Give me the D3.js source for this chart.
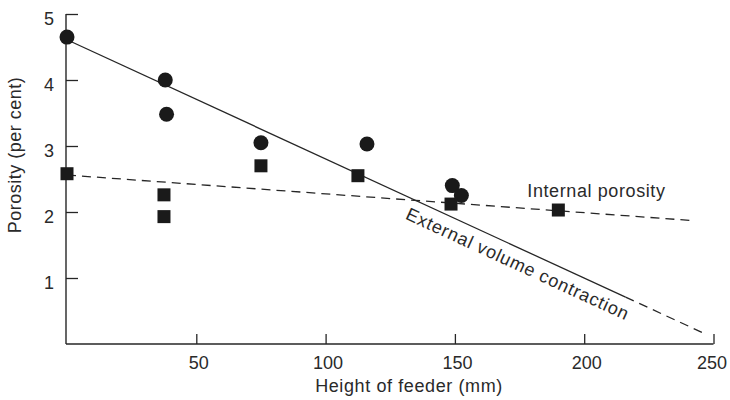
<!DOCTYPE html>
<html><head><meta charset="utf-8">
<script src="https://cdn.jsdelivr.net/npm/d3@7"></script>
<style>body{margin:0;background:#fff}svg{display:block}text{font-family:"Liberation Sans",Arial,Helvetica,sans-serif;fill:#2a2a2a}</style>
</head><body><svg id="c" width="730" height="400"></svg>
<script>
// Data
const xTicks = [50, 100, 150, 200, 250];
const yTicks = [1, 2, 3, 4, 5];
const externalX = [0, 38, 38.5, 75, 116, 149, 152.5];
const externalY = [4.65, 4.0, 3.48, 3.05, 3.03, 2.4, 2.25];
const internalX = [0, 37.5, 37.5, 75, 112.5, 148.5, 190];
const internalY = [2.58, 2.26, 1.93, 2.7, 2.55, 2.12, 2.03];
const externalFitSolid = [[0, 4.61], [216, 0.71]];
const externalFitDashed = [[216, 0.71], [247, 0.15]];
const internalFit = [[0, 2.56], [242, 1.87]];
const xLabel = "Height of feeder (mm)";
const yLabel = "Porosity (per cent)";
const internalLabel = "Internal porosity";
const externalLabel = "External volume contraction";

const svg = d3.select("#c");
const x = d3.scaleLinear().domain([0, 250]).range([67, 713.5]);
const y = d3.scaleLinear().domain([0, 5]).range([344, 14]);
const ink = "#262626";

// axes
const gx = svg.append("g").attr("transform", `translate(0,${y(0)})`)
  .call(d3.axisBottom(x).tickValues(xTicks).tickFormat(d3.format("d")).tickSize(-10).tickPadding(12));
const gy = svg.append("g").attr("transform", `translate(${x(0) - 1},0)`)
  .call(d3.axisLeft(y).tickValues(yTicks).tickFormat(d3.format("d")).tickSize(-12).tickPadding(12));
[gx, gy].forEach(g => {
  g.select(".domain").attr("stroke", ink).attr("stroke-width", 1.4);
  g.selectAll(".tick line").attr("stroke", ink).attr("stroke-width", 1.3);
  g.selectAll(".tick text").attr("font-size", 18).attr("fill", "#2a2a2a")
    .attr("font-family", '"Liberation Sans",Arial,sans-serif');
});
gx.select(".domain").attr("d", `M${x(0) - 1},0H${x(250)}`);
gx.selectAll(".tick text").attr("dx", d => d === 250 ? -2 : 2);
gy.select(".domain").attr("d", `M0,${y(5)}V${y(0)}`);
gy.selectAll(".tick text").attr("dy", "0.6em");

// axis titles
svg.append("text").attr("x", 409).attr("y", 392).attr("text-anchor", "middle")
  .attr("font-size", 18).attr("letter-spacing", 0.6).text(xLabel);
svg.append("text").attr("transform", "translate(21,155) rotate(-90)").attr("text-anchor", "middle")
  .attr("font-size", 18).attr("letter-spacing", 0.5).text(yLabel);

// fit lines
const line = d3.line().x(d => x(d[0])).y(d => y(d[1]));
svg.append("path").attr("d", line(externalFitSolid)).attr("fill", "none")
  .attr("stroke", ink).attr("stroke-width", 1.3);
svg.append("path").attr("d", line(externalFitDashed)).attr("fill", "none")
  .attr("stroke", ink).attr("stroke-width", 1.3).attr("stroke-dasharray", "9,6");
svg.append("path").attr("d", line(internalFit)).attr("fill", "none")
  .attr("stroke", ink).attr("stroke-width", 1.3).attr("stroke-dasharray", "9,6");

// markers
svg.append("g").selectAll("circle").data(d3.range(externalX.length)).join("circle")
  .attr("cx", i => x(externalX[i])).attr("cy", i => y(externalY[i])).attr("r", 7.5)
  .attr("fill", "#1a1a1a");
const s = 13;
svg.append("g").selectAll("rect").data(d3.range(internalX.length)).join("rect")
  .attr("x", i => x(internalX[i]) - s / 2).attr("y", i => y(internalY[i]) - s / 2)
  .attr("width", s).attr("height", s).attr("fill", "#1a1a1a");

// annotations
svg.append("text").attr("x", x(178)).attr("y", y(2.23)).attr("font-size", 18)
  .attr("letter-spacing", 0.6).text(internalLabel);
const ang = Math.atan2(y(externalFitSolid[1][1]) - y(externalFitSolid[0][1]),
  x(externalFitSolid[1][0]) - x(externalFitSolid[0][0])) * 180 / Math.PI;
svg.append("text").attr("transform", `translate(${x(130.5)},${y(1.9)}) rotate(${ang})`)
  .attr("font-size", 18).attr("letter-spacing", 0.8).text(externalLabel);
</script></body></html>
